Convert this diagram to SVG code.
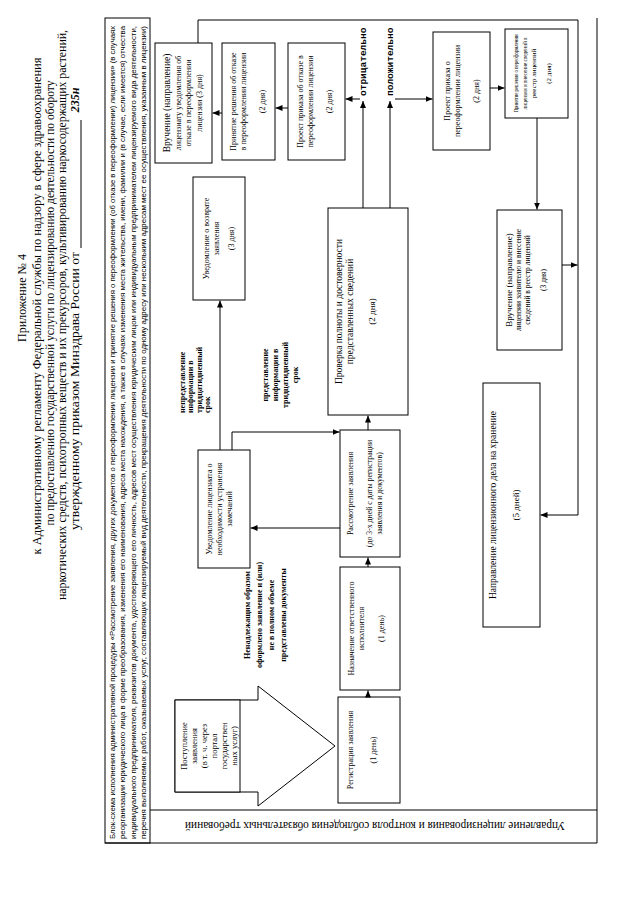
<svg xmlns="http://www.w3.org/2000/svg" width="640" height="905" viewBox="0 0 640 905">
<style>
.s{font-family:"Liberation Serif","Times New Roman",serif;fill:#000;dominant-baseline:central;text-anchor:middle}
.h{font-family:"Liberation Sans",Arial,sans-serif;fill:#000;dominant-baseline:central;font-size:7.5px}
.b{font-size:8px}
.lb{font-family:"Liberation Serif","Times New Roman",serif;font-weight:bold;font-size:8px;fill:#000;dominant-baseline:central}
.mono{font-family:"Liberation Mono","Courier New",monospace;font-weight:bold;font-size:9.5px;fill:#000;dominant-baseline:central}
.box{fill:#fff;stroke:#000;stroke-width:1}
.ln{fill:none;stroke:#000;stroke-width:1}
.c{fill:none;stroke:#000;stroke-width:1;marker-end:url(#ah)}
</style>
<defs>
<marker id="ah" markerWidth="7" markerHeight="6" refX="7" refY="3" orient="auto" markerUnits="userSpaceOnUse">
<path d="M0,0 L7,3 L0,6 Z" fill="#000"/>
</marker>
</defs>
<rect width="640" height="905" fill="#fff"/>

<g id="title" font-family="Liberation Serif, Times New Roman, serif" font-size="11.5">
<text class="s" transform="translate(22,298) rotate(-90)" font-size="12">Приложение № 4</text>
<text class="s" transform="translate(37,306) rotate(-90)" textLength="497" lengthAdjust="spacingAndGlyphs">к Административному регламенту Федеральной службы по надзору в сфере здравоохранения</text>
<text class="s" transform="translate(50,303) rotate(-90)" textLength="445" lengthAdjust="spacingAndGlyphs">по предоставлению государственной услуги по лицензированию деятельности по обороту</text>
<text class="s" transform="translate(62,315) rotate(-90)" textLength="570" lengthAdjust="spacingAndGlyphs">наркотических средств, психотропных веществ и их прекурсоров, культивированию наркосодержащих растений,</text>
<text class="s" transform="translate(75,530) rotate(-90)" style="text-anchor:start" textLength="278" lengthAdjust="spacingAndGlyphs">утвержденному приказом Минздрава России от</text>
<line class="ln" x1="81" y1="248" x2="81" y2="120"/>
<text class="s" transform="translate(75,100) rotate(-90)" font-style="italic" font-weight="bold" font-size="12">235н</text>
</g>

<g id="header">
<rect class="box" x="105" y="18" width="45" height="825"/>
<text class="h" transform="translate(112,839) rotate(-90)" textLength="813" lengthAdjust="spacingAndGlyphs">Блок-схема исполнения административной процедуры «Рассмотрение заявления, других документов о переоформлении лицензии и принятие решения о переоформлении (об отказе в переоформлении) лицензии» (в случаях</text>
<text class="h" transform="translate(122.5,839) rotate(-90)" textLength="813" lengthAdjust="spacingAndGlyphs">реорганизации юридического лица в форме преобразования, изменения его наименования, адреса места нахождения, а также в случаях изменения места жительства, имени, фамилии и (в случае, если имеется) отчества</text>
<text class="h" transform="translate(133,839) rotate(-90)" textLength="813" lengthAdjust="spacingAndGlyphs">индивидуального предпринимателя, реквизитов документа, удостоверяющего его личность, адресов мест осуществления юридическим лицом или индивидуальным предпринимателем лицензируемого вида деятельности,</text>
<text class="h" transform="translate(143.5,839) rotate(-90)" textLength="813" lengthAdjust="spacingAndGlyphs">перечня выполняемых работ, оказываемых услуг, составляющих лицензируемый вид деятельности, прекращения деятельности по одному адресу или нескольким адресам мест ее осуществления, указанным в лицензии)</text>
</g>

<g id="frame">
<line class="ln" x1="597" y1="18" x2="597" y2="843"/>
<line class="ln" x1="150" y1="810" x2="597" y2="810"/>
<line class="ln" x1="105" y1="843" x2="597" y2="843"/>
<text class="s" transform="translate(375,826) rotate(180)" font-size="12" textLength="380" lengthAdjust="spacingAndGlyphs">Управление лицензирования и контроля соблюдения обязательных требований</text>
</g>

<g id="node-postuplenie">
<path class="box" d="M175,700 H258 V686 L335,746 L258,806 V792 H175 Z"/>
<rect class="box" x="175" y="700" width="65" height="92"/>
<g transform="translate(207.5,746) rotate(-90)">
<text class="s" y="-24" font-size="8.5">Поступление</text>
<text class="s" y="-14" font-size="8.5">заявления</text>
<text class="s" y="-4" font-size="8.5">(в т. ч. через</text>
<text class="s" y="6" font-size="8.5">портал</text>
<text class="s" y="16" font-size="8.5">государствен</text>
<text class="s" y="26" font-size="8.5">ных услуг)</text>
</g>
</g>

<g id="node-registraciya">
<rect class="box" x="338" y="697" width="62" height="106"/>
<g transform="translate(369,750) rotate(-90)">
<text class="s b" y="-19">Регистрация заявления</text>
<text class="s b" y="4">(1 день)</text>
</g>
</g>

<g id="node-naznachenie">
<rect class="box" x="340" y="567" width="60" height="123"/>
<g transform="translate(370,628.5) rotate(-90)">
<text class="s b" y="-19">Назначение ответственного</text>
<text class="s b" y="-9">исполнителя</text>
<text class="s b" y="11">(1 день)</text>
</g>
</g>

<g id="node-rassmotrenie">
<rect class="box" x="340" y="430" width="60" height="127"/>
<g transform="translate(370,493.5) rotate(-90)">
<text class="s b" y="-20">Рассмотрение заявления</text>
<text class="s" y="-1" font-size="7.8">(до 3-х дней с даты регистрации</text>
<text class="s" y="9" font-size="7.8">заявления и документов)</text>
</g>
</g>

<g id="node-ustranenie">
<rect class="box" x="198" y="450" width="52" height="118"/>
<g transform="translate(224,509) rotate(-90)">
<text class="s b" y="-15">Уведомление лицензиата о</text>
<text class="s b" y="-5">необходимости устранения</text>
<text class="s b" y="5">замечаний</text>
</g>
</g>

<g id="node-vozvrat">
<rect class="box" x="193" y="177" width="52" height="123"/>
<g transform="translate(219,238.5) rotate(-90)">
<text class="s b" y="-13">Уведомление о возврате</text>
<text class="s b" y="-3">заявления</text>
<text class="s b" y="12">(3 дня)</text>
</g>
</g>

<g id="node-proverka">
<rect class="box" x="328" y="208" width="80" height="207"/>
<g transform="translate(368,311.5) rotate(-90)">
<text class="s" y="-29" font-size="9.5">Проверка полноты и достоверности</text>
<text class="s" y="-18" font-size="9.5">представленных сведений</text>
<text class="s" y="4" font-size="9">(2 дня)</text>
</g>
</g>

<g id="node-proekt-otkaz">
<rect class="box" x="288" y="43" width="57" height="117"/>
<g transform="translate(316.5,101.5) rotate(-90)">
<text class="s b" y="-16">Проект приказа об отказе в</text>
<text class="s b" y="-6">переоформлении лицензии</text>
<text class="s b" y="13">(2 дня)</text>
</g>
</g>

<g id="node-prinyatie-otkaz">
<rect class="box" x="222" y="43" width="53" height="117"/>
<g transform="translate(248.5,101.5) rotate(-90)">
<text class="s b" y="-15">Принятие решения об отказе</text>
<text class="s b" y="-5">в переоформлении лицензии</text>
<text class="s b" y="14">(2 дня)</text>
</g>
</g>

<g id="node-vruchenie-otkaz">
<rect class="box" x="155" y="43" width="57" height="120"/>
<g transform="translate(183.5,103) rotate(-90)">
<text class="s" y="-17" font-size="9.5">Вручение (направление)</text>
<text class="s b" y="-5.5">лицензиату уведомления об</text>
<text class="s b" y="5">отказе в переоформлении</text>
<text class="s b" y="15.5">лицензии (3 дня)</text>
</g>
</g>

<g id="node-proekt-pereoform">
<rect class="box" x="433" y="32" width="57" height="118"/>
<g transform="translate(461.5,91) rotate(-90)">
<text class="s b" y="-14">Проект приказа о</text>
<text class="s b" y="-4">переоформлении лицензии</text>
<text class="s b" y="15">(2 дня)</text>
</g>
</g>

<g id="node-prinyatie-pereoform">
<rect class="box" x="505" y="29" width="63" height="89"/>
<g transform="translate(536.5,73.5) rotate(-90)">
<text class="s" y="-21" font-size="6" textLength="78" lengthAdjust="spacingAndGlyphs">Принятие решения о переоформлении</text>
<text class="s" y="-12" font-size="6" textLength="72" lengthAdjust="spacingAndGlyphs">лицензии и внесение сведений в</text>
<text class="s" y="-3" font-size="7">реестр лицензий</text>
<text class="s" y="12" font-size="7">(2 дня)</text>
</g>
</g>

<g id="node-vruchenie-licenzii">
<rect class="box" x="497" y="210" width="65" height="140"/>
<g transform="translate(529.5,280) rotate(-90)">
<text class="s" y="-21" font-size="9">Вручение (направление)</text>
<text class="s" y="-11" font-size="7.5">лицензии заявителю и внесение</text>
<text class="s" y="-2" font-size="7.5">сведений в реестр лицензий</text>
<text class="s" y="14" font-size="7.5">(3 дня)</text>
</g>
</g>

<g id="node-hranenie">
<rect class="box" x="483" y="383" width="57" height="244"/>
<g transform="translate(511.5,505) rotate(-90)">
<text class="s" y="-19" font-size="9.5">Направление лицензионного дела на хранение</text>
<text class="s" y="4" font-size="9">(5 дней)</text>
</g>
</g>

<g id="labels">
<g transform="translate(195,413) rotate(-90)">
<text class="lb" y="-13">непредставление</text>
<text class="lb" y="-4.5">информации в</text>
<text class="lb" y="4">тридцатидневный</text>
<text class="lb" y="12.5">срок</text>
</g>
<g transform="translate(280,375) rotate(-90)" text-anchor="middle">
<text class="lb" y="-15">представление</text>
<text class="lb" y="-5">информации в</text>
<text class="lb" y="5">тридцатидневный</text>
<text class="lb" y="15">срок</text>
</g>
<g transform="translate(265,615) rotate(-90)" text-anchor="middle">
<text class="lb" y="-18">Ненадлежащим образом</text>
<text class="lb" y="-6">оформлено заявление и (или)</text>
<text class="lb" y="6">не в полном объеме</text>
<text class="lb" y="18">представлены документы</text>
</g>
<text class="mono" transform="translate(363,96) rotate(-90)">отрицательно</text>
<text class="mono" transform="translate(390,96) rotate(-90)">положительно</text>
</g>

<g id="connectors">
<line class="c" x1="288" y1="108" x2="275.5" y2="108"/>
<line class="c" x1="222" y1="113" x2="212.5" y2="113"/>
<line class="c" x1="220" y1="450" x2="220" y2="300.5"/>
<polyline class="c" points="232,450 232,432 339.5,432"/>
<line class="c" x1="340" y1="528" x2="250.5" y2="528"/>
<line class="c" x1="368" y1="430" x2="368" y2="415.5"/>
<line class="c" x1="368" y1="567" x2="368" y2="557.5"/>
<line class="c" x1="368" y1="697" x2="368" y2="690.5"/>
<line class="c" x1="363" y1="208" x2="363" y2="101"/>
<line class="c" x1="390" y1="208" x2="390" y2="101"/>
<line class="c" x1="360" y1="99" x2="345.5" y2="99"/>
<line class="c" x1="395" y1="99" x2="432.5" y2="99"/>
<line class="c" x1="490" y1="88" x2="504.5" y2="88"/>
<line class="c" x1="537" y1="118" x2="537" y2="209.5"/>
<line class="c" x1="562" y1="265" x2="577.5" y2="265"/>
<polyline class="c" points="198,43 198,20 578,20 578,515 540.5,515"/>
</g>
</svg>
